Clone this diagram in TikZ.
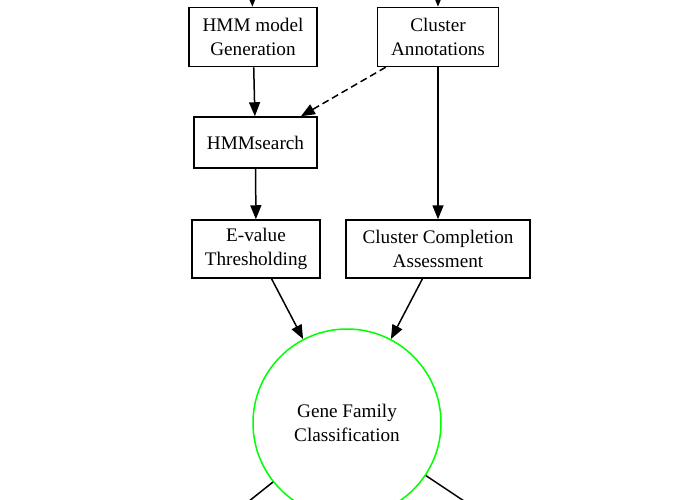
\documentclass[tikz,border=0pt]{standalone}
\usepackage{fontspec}
\setmainfont{Liberation Serif}
\usepackage{tikz}
\usetikzlibrary{arrows.meta}
\tikzset{
  box/.style={draw, line width=1.5pt, align=center, inner sep=0pt},
  edge/.style={line width=1.5pt, -{Triangle[length=14pt,width=11pt]}},
}
\begin{document}
\begin{tikzpicture}[x=1pt,y=-1pt,font=\fontsize{19.2}{23.8}\selectfont]
\useasboundingbox (0,0) rectangle (680,500);
\clip (0,0) rectangle (680,500);
\node [box, minimum width=128pt, minimum height=59pt] (gen) at (253,37) {HMM model\\Generation};
\node [box, minimum width=121pt, minimum height=59pt] (annot) at (438,37) {Cluster\\Annotations};
\node [box, minimum width=123pt, minimum height=51pt] (search) at (255.5,142.5) {HMMsearch};
\node [box, minimum width=128pt, minimum height=58pt] (evalue) at (256,249) {E-value\\Thresholding};
\node [box, minimum width=184pt, minimum height=58pt] (complete) at (438,249) {Cluster Completion\\Assessment};
\node [draw=green, line width=1.5pt, circle, minimum size=188pt, inner sep=0pt, align=center] (family) at (347,423) {Gene Family\\Classification};
\coordinate (intop1) at (251.5,-40);
\coordinate (intop2) at (438,-40);
\coordinate (outleft) at (199,541);
\coordinate (outright) at (503,527);
\draw [edge] (intop1) -- (gen);
\draw [edge] (intop2) -- (annot);
\draw [edge] (gen) -- (search);
\draw [edge, dashed, dash pattern=on 7pt off 4pt] (annot) -- (search);
\draw [edge] (search) -- (evalue);
\draw [edge] (annot) -- (complete);
\draw [edge] (evalue) -- (family);
\draw [edge] (complete) -- (family);
\draw [line width=1.5pt] (family) -- (outleft);
\draw [line width=1.5pt] (family) -- (outright);
\end{tikzpicture}
\end{document}
